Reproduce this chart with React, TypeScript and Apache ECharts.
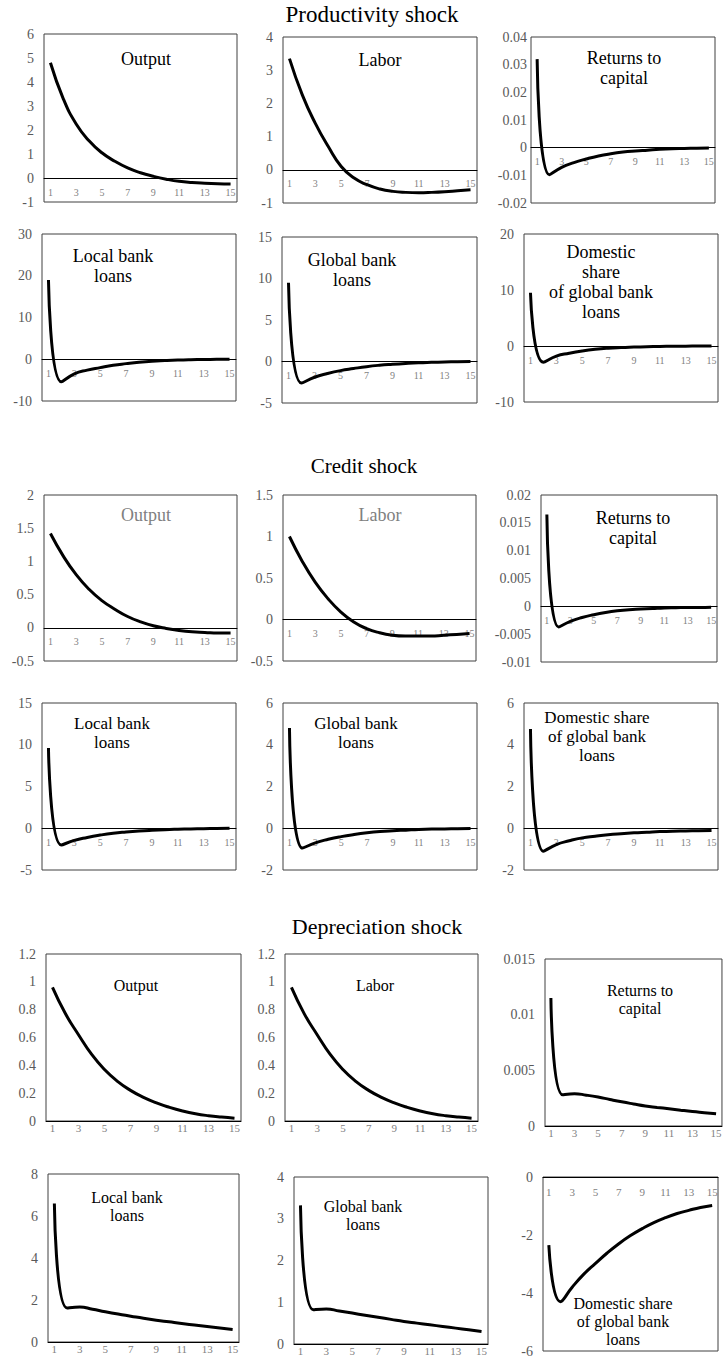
import React, { useEffect, useRef } from "react";
import * as echarts from "echarts";

const periods = ["1","2","3","4","5","6","7","8","9","10","11","12","13","14","15"];

// Productivity shock
const prodOutput = [4.8, 3.3, 2.25, 1.55, 1.05, 0.7, 0.42, 0.22, 0.07, -0.05, -0.14, -0.19, -0.22, -0.24, -0.25];
const prodLabor = [3.35, 2.25, 1.4, 0.7, 0.1, -0.25, -0.45, -0.58, -0.65, -0.68, -0.69, -0.68, -0.66, -0.63, -0.6];
const prodReturns = [0.032, -0.0098, -0.0071, -0.0054, -0.0041, -0.003, -0.0022, -0.0016, -0.0012, -0.0009, -0.0006, -0.0004, -0.0003, -0.0002, -0.0001];
const prodLocal = [19, -5.4, -3.5, -2.6, -2.0, -1.45, -1.05, -0.7, -0.45, -0.3, -0.18, -0.1, -0.05, -0.02, 0];
const prodGlobal = [9.5, -2.6, -1.9, -1.45, -1.1, -0.85, -0.62, -0.45, -0.33, -0.23, -0.15, -0.1, -0.06, -0.03, 0];
const prodDomestic = [9.5, -2.9, -1.8, -1.3, -0.9, -0.6, -0.4, -0.28, -0.2, -0.13, -0.08, -0.05, -0.03, -0.01, 0];

// Credit shock
const credOutput = [1.42, 1.08, 0.8, 0.58, 0.41, 0.28, 0.17, 0.09, 0.03, -0.01, -0.04, -0.06, -0.07, -0.08, -0.08];
const credLabor = [1.0, 0.7, 0.45, 0.25, 0.09, -0.03, -0.11, -0.16, -0.19, -0.2, -0.2, -0.2, -0.19, -0.18, -0.17];
const credReturns = [0.0165, -0.0037, -0.0027, -0.002, -0.0015, -0.0011, -0.0008, -0.0006, -0.0005, -0.0004, -0.0003, -0.00025, -0.0002, -0.0002, -0.00015];
const credLocal = [9.6, -2.0, -1.45, -1.1, -0.82, -0.6, -0.45, -0.33, -0.24, -0.17, -0.12, -0.08, -0.05, -0.02, 0];
const credGlobal = [4.8, -0.95, -0.7, -0.53, -0.4, -0.3, -0.22, -0.16, -0.12, -0.09, -0.06, -0.04, -0.03, -0.02, -0.01];
const credDomestic = [4.75, -1.1, -0.78, -0.6, -0.46, -0.38, -0.31, -0.26, -0.22, -0.19, -0.16, -0.14, -0.13, -0.12, -0.11];

// Depreciation shock
const depOutput = [0.96, 0.77, 0.62, 0.48, 0.37, 0.285, 0.22, 0.17, 0.13, 0.098, 0.072, 0.052, 0.038, 0.028, 0.02];
const depLabor = [0.96, 0.77, 0.62, 0.48, 0.37, 0.285, 0.22, 0.17, 0.13, 0.098, 0.072, 0.052, 0.038, 0.028, 0.02];
const depReturns = [0.0115, 0.0028, 0.0029, 0.00277, 0.0026, 0.00238, 0.00217, 0.00198, 0.0018, 0.00167, 0.00155, 0.00142, 0.0013, 0.0012, 0.0011];
const depLocal = [6.6, 1.62, 1.67, 1.56, 1.44, 1.33, 1.23, 1.13, 1.04, 0.96, 0.88, 0.81, 0.74, 0.67, 0.6];
const depGlobal = [3.32, 0.82, 0.84, 0.79, 0.74, 0.69, 0.64, 0.59, 0.54, 0.5, 0.46, 0.42, 0.38, 0.34, 0.3];
const depDomestic = [-2.35, -4.3, -3.8, -3.35, -2.98, -2.62, -2.3, -2.02, -1.78, -1.57, -1.4, -1.26, -1.15, -1.05, -0.98];

const sectionTitles = ["Productivity shock", "Credit shock", "Depreciation shock"];

const FONT = "Liberation Serif";

type Panel = {
  data: number[];
  min: number;
  max: number;
  interval: number;
  box: [number, number, number, number]; // left, top, right, bottom
  label: string;
  labelPos: [number, number];
  labelSize: number;
  labelColor?: string;
  yMargin?: number;
  xMargin?: number;
  xSize?: number;
};

const panels: Panel[] = [
  { data: prodOutput, min: -1, max: 6, interval: 1, box: [44, 34, 237, 202], label: "Output", labelPos: [146, 49], labelSize: 18 },
  { data: prodLabor, min: -1, max: 4, interval: 1, box: [283, 37, 477, 203], label: "Labor", labelPos: [380, 50], labelSize: 18 },
  { data: prodReturns, min: -0.02, max: 0.04, interval: 0.01, box: [531, 37, 715, 203], label: "Returns to\ncapital", labelPos: [624, 48], labelSize: 18, yMargin: 4 },
  { data: prodLocal, min: -10, max: 30, interval: 10, box: [42, 234, 236, 401], label: "Local bank\nloans", labelPos: [113, 246], labelSize: 18 },
  { data: prodGlobal, min: -5, max: 15, interval: 5, box: [282, 237, 477, 403], label: "Global bank\nloans", labelPos: [352, 250], labelSize: 18 },
  { data: prodDomestic, min: -10, max: 20, interval: 10, box: [524, 234, 718, 402], label: "Domestic\nshare\nof global bank\nloans", labelPos: [601, 242], labelSize: 18 },

  { data: credOutput, min: -0.5, max: 2, interval: 0.5, box: [44, 495, 237, 661], label: "Output", labelPos: [146, 505], labelSize: 18, labelColor: "#808080" },
  { data: credLabor, min: -0.5, max: 1.5, interval: 0.5, box: [283, 495, 476, 661], label: "Labor", labelPos: [380, 505], labelSize: 18, labelColor: "#808080" },
  { data: credReturns, min: -0.01, max: 0.02, interval: 0.005, box: [541, 495, 717, 662], label: "Returns to\ncapital", labelPos: [633, 508], labelSize: 18 },
  { data: credLocal, min: -5, max: 15, interval: 5, box: [42, 703, 236, 870], label: "Local bank\nloans", labelPos: [112, 714], labelSize: 17 },
  { data: credGlobal, min: -2, max: 6, interval: 2, box: [283, 703, 477, 870], label: "Global bank\nloans", labelPos: [356, 714], labelSize: 17 },
  { data: credDomestic, min: -2, max: 6, interval: 2, box: [524, 703, 718, 870], label: "Domestic share\nof global bank\nloans", labelPos: [597, 708], labelSize: 17 },

  { data: depOutput, min: 0, max: 1.2, interval: 0.2, box: [46, 954, 241, 1121], label: "Output", labelPos: [136, 976], labelSize: 16, xMargin: 1, xSize: 11 },
  { data: depLabor, min: 0, max: 1.2, interval: 0.2, box: [285, 954, 478, 1121], label: "Labor", labelPos: [375, 976], labelSize: 16, xMargin: 1, xSize: 11 },
  { data: depReturns, min: 0, max: 0.015, interval: 0.005, box: [545, 959, 739, 1126], label: "Returns to\ncapital", labelPos: [640, 981], labelSize: 16, xMargin: 1, xSize: 11 },
  { data: depLocal, min: 0, max: 8, interval: 2, box: [48, 1174, 239, 1342], label: "Local bank\nloans", labelPos: [127, 1188], labelSize: 16, xMargin: 1, xSize: 11 },
  { data: depGlobal, min: 0, max: 4, interval: 1, box: [294, 1177, 488, 1344], label: "Global bank\nloans", labelPos: [363, 1197], labelSize: 16, xMargin: 1, xSize: 11 },
  { data: depDomestic, min: -6, max: 0, interval: 2, box: [543, 1177, 718, 1351], label: "Domestic share\nof global bank\nloans", labelPos: [623, 1294], labelSize: 16, xSize: 11 },
];

const titlePos: [number, number, number][] = [
  [372, 3, 23],
  [364, 455, 21],
  [377, 915, 22],
];

export default function App() {
  const ref = useRef<HTMLDivElement>(null);
  useEffect(() => {
    if (!ref.current) return;
    const chart = echarts.init(ref.current, undefined, { renderer: "svg" });
    const grid: any[] = [];
    const xAxis: any[] = [];
    const yAxis: any[] = [];
    const series: any[] = [];
    const graphic: any[] = [];
    panels.forEach((p, i) => {
      const [l, t, r, b] = p.box;
      const h = b - t;
      // place the category axis at value 0 (Excel style)
      const zeroOffset = p.min < 0 ? -h * (0 - p.min) / (p.max - p.min) : 0;
      grid.push({ left: l, top: t, width: r - l, height: h, show: true, borderColor: "#404040", borderWidth: 1, backgroundColor: "transparent" });
      xAxis.push({
        type: "category",
        gridIndex: i,
        position: "bottom",
        offset: zeroOffset,
        data: periods,
        boundaryGap: true,
        axisTick: { show: false },
        axisLine: { show: true, onZero: false, lineStyle: { color: "#000", width: 1 } },
        axisLabel: { interval: 1, fontFamily: FONT, fontSize: p.xSize ?? 10, color: "#7f7f7f", margin: p.xMargin ?? 9 },
        splitLine: { show: false },
        z: 1,
      });
      yAxis.push({
        type: "value",
        gridIndex: i,
        min: p.min,
        max: p.max,
        interval: p.interval,
        axisLine: { show: false },
        axisTick: { show: false },
        splitLine: { show: false },
        axisLabel: { fontFamily: FONT, fontSize: 14, color: "#595959", margin: p.yMargin ?? 10 },
      });
      series.push({
        type: "line",
        xAxisIndex: i,
        yAxisIndex: i,
        data: p.data,
        showSymbol: false,
        smooth: 0.5,
        z: 3,
        lineStyle: { color: "#000", width: 3 },
        itemStyle: { color: "#000" },
      });
      graphic.push({
        type: "text",
        x: p.labelPos[0],
        y: p.labelPos[1],
        style: {
          text: p.label,
          textAlign: "center",
          textVerticalAlign: "top",
          fontFamily: FONT,
          fontSize: p.labelSize,
          lineHeight: Math.round(p.labelSize * 1.12),
          fill: p.labelColor ?? "#000",
        },
      });
    });
    sectionTitles.forEach((s, i) => {
      graphic.push({
        type: "text",
        x: titlePos[i][0],
        y: titlePos[i][1],
        style: { text: s, textAlign: "center", textVerticalAlign: "top", fontFamily: FONT, fontSize: titlePos[i][2], fill: "#000" },
      });
    });
    chart.setOption({ animation: false, backgroundColor: "#fff", grid, xAxis, yAxis, series, graphic });
    return () => chart.dispose();
  }, []);
  return <div ref={ref} style={{ position: "absolute", left: 0, top: 0, width: 724, height: 1364 }} />;
}
